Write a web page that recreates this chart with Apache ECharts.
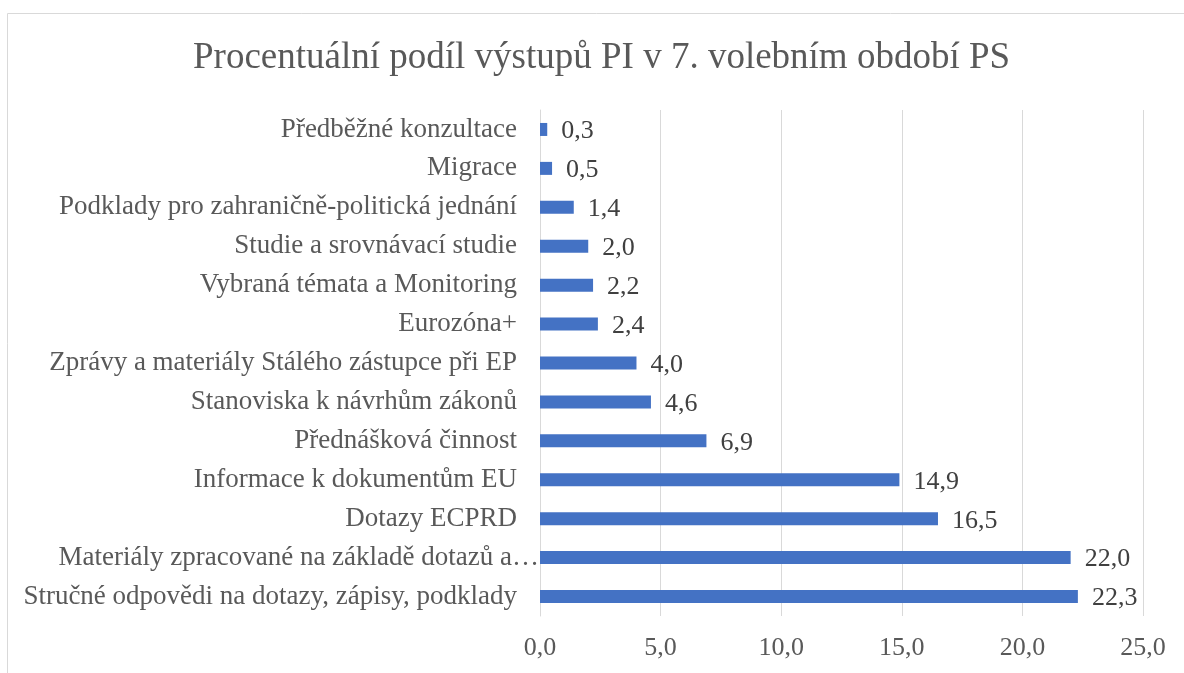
<!DOCTYPE html>
<html lang="cs" style="height: 100%">
<head>
  <meta charset="utf-8">
  <script src="https://cdn.jsdelivr.net/npm/echarts@6/dist/echarts.min.js"></script>
</head>
<body style="height: 100%; margin: 0; background: #fff">
  <div id="container" style="width: 1184px; height: 673px"></div>

  <script type="text/javascript">
    // kategorie odspodu nahoru
    var categories = [
      'Stručné odpovědi na dotazy, zápisy, podklady',
      'Materiály zpracované na základě dotazů a…',
      'Dotazy ECPRD',
      'Informace k dokumentům EU',
      'Přednášková činnost',
      'Stanoviska k návrhům zákonů',
      'Zprávy a materiály Stálého zástupce při EP',
      'Eurozóna+',
      'Vybraná témata a Monitoring',
      'Studie a srovnávací studie',
      'Podklady pro zahraničně-politická jednání',
      'Migrace',
      'Předběžné konzultace'
    ];
    var values = [22.3, 22.0, 16.5, 14.9, 6.9, 4.6, 4.0, 2.4, 2.2, 2.0, 1.4, 0.5, 0.3];
    var xTicks = [0, 5, 10, 15, 20, 25];

    var font = '"Liberation Serif", "Times New Roman", serif';
    function czNum(v) {
      return Number(v).toFixed(1).replace('.', ',');
    }

    var dom = document.getElementById('container');
    var myChart = echarts.init(dom, null, { renderer: 'canvas' });

    var labelFont = { fontFamily: font, fontSize: 27, color: '#595959' };

    var option = {
      animation: false,
      title: {
        text: 'Procentuální podíl výstupů PI v 7. volebním období PS',
        left: 188,
        top: 35,
        textStyle: { fontFamily: font, fontSize: 37, fontWeight: 'normal', color: '#595959' }
      },
      graphic: [{
        type: 'rect',
        shape: { x: 7.5, y: 13.5, width: 1300, height: 800 },
        style: { fill: 'none', stroke: '#d9d9d9', lineWidth: 1 },
        silent: true
      }],
      grid: { left: 540, right: 41, top: 110, bottom: 57 },
      xAxis: {
        type: 'value',
        min: xTicks[0],
        max: xTicks[xTicks.length - 1],
        interval: 5,
        axisLine: { show: false },
        axisTick: { show: false },
        splitLine: { lineStyle: { color: '#d9d9d9', width: 1 } },
        axisLabel: {
          formatter: czNum,
          fontFamily: font,
          fontSize: 26,
          color: '#595959',
          margin: 19
        }
      },
      yAxis: {
        type: 'category',
        data: categories,
        axisLine: { show: true, lineStyle: { color: '#d9d9d9' } },
        axisTick: { show: false },
        axisLabel: {
          fontFamily: font,
          fontSize: 27,
          color: '#595959',
          margin: 1,
          // zkrácený popisek sahá až k ose, ostatní mají mezeru
          formatter: function (v, i) {
            return i === 1 ? '{a|' + v + '}' : '{b|' + v + '}';
          },
          rich: {
            a: labelFont,
            b: Object.assign({ padding: [0, 22, 0, 0] }, labelFont)
          }
        }
      },
      series: [{
        type: 'bar',
        data: values,
        barWidth: 13,
        itemStyle: { color: '#4472C4' },
        label: {
          show: true,
          position: 'right',
          distance: 14,
          offset: [0, 2],
          formatter: function (p) { return czNum(p.value); },
          fontFamily: font,
          fontSize: 26,
          color: '#404040'
        }
      }]
    };

    myChart.setOption(option);
    window.addEventListener('resize', myChart.resize);
  </script>
</body>
</html>
